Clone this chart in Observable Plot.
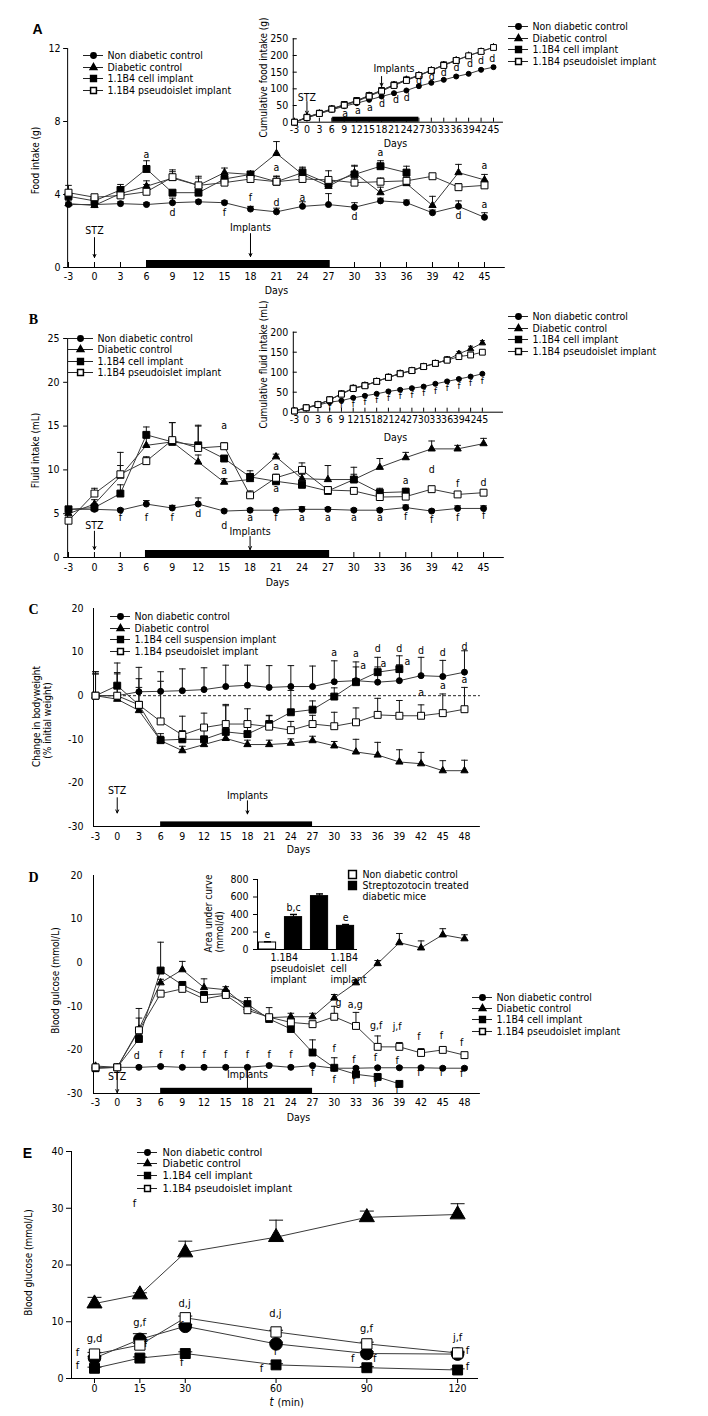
<!DOCTYPE html>
<html><head><meta charset="utf-8">
<script src="https://cdn.jsdelivr.net/npm/d3@7"></script>
<script src="https://cdn.jsdelivr.net/npm/@observablehq/plot@0.6"></script>
<style>
body{margin:0;background:#fff;}
#fig{position:relative;width:708px;height:1416px;overflow:hidden;background:#fff;}
</style></head>
<body><div id="fig"></div>
<script>
// ---------------- DATA ----------------
const legendLabels = ["Non diabetic control","Diabetic control","1.1B4 cell implant","1.1B4 pseudoislet implant"];
const legendLabelsC = ["Non diabetic control","Diabetic control","1.1B4 cell suspension implant","1.1B4 pseudoislet implant"];
const seriesKeys = ["nd","dc","cell","pseudo"];

const daysAB = [-3,0,3,6,9,12,15,18,21,24,27,30,33,36,39,42,45];
const daysCD = [-3,0,3,6,9,12,15,18,21,24,27,30,33,36,39,42,45,48];
const timesE = [0,15,30,60,90,120];

const yTicksA = [0,4,8,12];
const yTicksAInset = [0,50,100,150,200,250];
const yTicksB = [0,5,10,15,20,25];
const yTicksBInset = [0,50,100,150,200];
const yTicksCD = [-30,-20,-10,0,10,20];
const yTicksDInset = [0,200,400,600,800];
const yTicksE = [0,10,20,30,40];

// A: food intake (g)
const foodNonDiab = [3.45,3.45,3.5,3.45,3.55,3.6,3.55,3.2,3.05,3.35,3.45,3.3,3.65,3.55,3.0,3.35,2.75];
const foodNonDiabErr = [0.1,0.1,0.1,0.1,0.25,0.1,0.1,0.15,0.2,0.25,0.6,0.25,0.15,0.15,0.15,0.3,0.25];
const foodDiab = [3.5,3.4,4.05,4.45,4.9,4.5,5.2,5.1,6.25,5.1,4.45,5.2,4.1,4.6,3.4,5.2,4.8];
const foodDiabErr = [0.15,0.1,0.3,0.3,0.35,0.5,0.25,0.1,0.65,0.35,0.3,0.4,0.3,0.3,0.5,0.45,0.3];
const foodCell = [3.9,3.65,4.25,5.4,4.1,4.1,4.85,5.1,4.7,5.2,4.6,5.1,5.55,5.2];
const foodCellErr = [0.2,0.1,0.3,0.45,0.1,0.1,0.2,0.1,0.3,0.3,0.2,0.45,0.3,0.35];
const foodPseudo = [4.1,3.85,3.95,4.15,4.95,4.5,4.65,4.85,4.7,4.85,4.8,4.65,4.7,4.75,5.0,4.4,4.5];
const foodPseudoErr = [0.4,0.1,0.2,0.4,0.4,0.4,0.2,0.1,0.3,0.2,0.5,0.2,0.2,0.2,0.1,0.2,0.2];
// A inset: cumulative food intake (g)
const cumFoodNonDiab = [0,13,25,37,48,57,67,77,87,95,108,118,127,137,145,157,165];
const cumFoodNonDiabErr = [1,2,2,3,3,3,3,4,3,3,4,3,3,4,4,4,4];
const cumFoodDiab = [0,15,27,40,52,64,80,96,112,128,141,156,172,186,200,212,225];
const cumFoodDiabErr = [1,2,2,3,3,4,4,4,4,5,5,5,5,5,5,4,4];
const cumFoodCell = [0,15,27,40,53,65,80,95,112,127,140,155,172,185];
const cumFoodCellErr = [1,2,2,3,3,4,4,4,4,4,5,5,5,5];
const cumFoodPseudo = [0,14,26,39,51,62,78,93,110,125,140,155,170,185,199,212,224];
const cumFoodPseudoErr = [1,2,2,3,3,4,4,4,4,5,5,5,5,5,5,5,5];
// B: fluid intake (mL)
const fluidNonDiab = [5.5,5.5,5.4,6.1,5.65,6.1,5.3,5.4,5.4,5.5,5.5,5.4,5.4,5.7,5.3,5.6,5.6];
const fluidNonDiabErr = [0.3,0.3,0.2,0.4,0.3,0.7,0.2,0.2,0.2,0.3,0.2,0.2,0.2,0.3,0.2,0.3,0.3];
const fluidDiab = [5.0,6.1,9.3,12.8,13.2,10.9,8.6,8.9,11.5,9.0,8.9,8.9,10.3,11.4,12.4,12.4,13.0];
const fluidDiabErr = [0.3,0.5,1.2,1.0,2.2,0.8,0.4,0.6,0.3,0.5,1.6,1.4,1.0,0.6,0.9,0.4,0.6];
const fluidCell = [5.5,5.7,7.3,14.0,13.2,12.8,11.3,9.2,8.7,8.3,7.6,8.9,7.4,7.5];
const fluidCellErr = [0.3,0.4,1.0,0.9,0.3,2.3,0.3,0.7,0.5,0.3,0.5,0.6,0.5,0.4];
const fluidPseudo = [4.2,7.3,9.5,11.0,13.4,12.5,12.7,7.1,9.1,10.0,7.7,7.6,6.9,6.95,7.8,7.2,7.4];
const fluidPseudoErr = [0.3,0.6,2.5,0.5,2.0,2.5,0.4,0.5,0.4,0.8,0.3,0.4,0.3,0.3,0.3,0.3,0.3];
// B inset: cumulative fluid intake (mL)
const cumFluidNonDiab = [3,10,18,25,29,36,41,46,52,56,60,64,71,77,83,89,96];
const cumFluidNonDiabErr = [1,1,2,2,2,2,3,3,3,3,3,3,3,3,3,3,3];
const cumFluidDiab = [3,11,19,31,46,60,67,77,87,97,104,114,122,131,146,158,173];
const cumFluidDiabErr = [1,2,3,4,5,5,6,6,8,6,6,5,5,6,6,7,6];
const cumFluidCell = [3,11,19,31,46,60,67,77,87,97,104,114,122,131];
const cumFluidCellErr = [1,2,3,4,5,4,5,5,5,5,5,5,5,5];
const cumFluidPseudo = [3,11,19,31,45,59,66,77,87,96,104,114,122,130,139,143,150];
const cumFluidPseudoErr = [1,2,3,4,5,4,5,5,5,5,5,5,5,5,5,5,6];
// C: change in bodyweight (% initial weight)
const bwNonDiab = [0,0,0.9,1.0,1.15,1.4,2.1,2.4,1.9,2.1,2.1,3.2,3.45,3.1,3.45,4.6,4.4,5.4];
const bwNonDiabErr = [5.5,7.5,5.6,4.5,5.0,5.0,4.9,4.6,5.0,4.8,4.7,4.8,4.3,5.7,5.7,4.2,3.7,4.9];
const bwDiab = [0,-0.8,-3.4,-10.3,-12.6,-11.2,-9.8,-11.2,-11.2,-10.9,-10.3,-11.5,-12.9,-13.6,-15.2,-15.6,-17.2,-17.2];
const bwDiabErr = [5.0,1.0,1.5,1.0,1.0,1.0,1.0,1.0,1.0,1.0,1.0,1.0,2.9,2.9,2.8,2.6,2.3,2.4];
const bwCell = [0,2.3,-2.1,-10.2,-10.0,-10.0,-8.3,-8.8,-6.5,-3.8,-3.2,-0.2,3.1,5.4,6.1];
const bwCellErr = [5.5,3.0,6.0,1.5,2.0,2.5,6.0,2.0,2.0,5.0,2.0,2.0,3.5,1.2,1.0];
const bwPseudo = [0,0,-2.1,-5.9,-9.0,-7.3,-6.5,-6.5,-7.1,-7.9,-6.5,-7.0,-6.1,-4.4,-4.6,-4.6,-4.0,-3.1];
const bwPseudoErr = [5.0,5.0,4.0,9.2,4.3,3.3,4.5,3.5,2.5,2.0,2.0,3.2,3.3,3.8,3.5,2.5,4.4,5.0];
// D: blood glucose (mmol/L)
const glucNonDiab = [-24.2,-24,-24,-23.8,-24,-24,-24,-24,-23.6,-24,-23.6,-24.2,-24.2,-24.1,-24.1,-24.1,-24.2,-24.2];
const glucNonDiabErr = [0.3,0.3,0.3,0.3,0.3,0.3,0.3,0.3,0.3,0.3,0.3,0.3,0.3,0.3,0.3,0.3,0.3,0.3];
const glucDiab = [-23.7,-24,-15.2,-4.6,-1.6,-5.7,-6.2,-10.3,-12.6,-12.4,-12.4,-8.1,-4.6,-0.2,4.6,3.4,6.4,5.5];
const glucDiabErr = [0.3,0.3,2.5,0.8,1.9,2.0,0.7,2.3,2.3,0.8,0.8,0.8,0.6,0.7,2.1,1.6,1.4,0.9];
const glucCell = [-24.2,-24,-17.5,-1.8,-5.1,-7.4,-7.1,-9.5,-12.9,-15.2,-20.6,-24.1,-25.6,-26.2,-27.8];
const glucCellErr = [0.3,0.3,1.0,6.5,0.6,0.5,0.5,0.5,0.5,0.5,2.9,2.3,0.5,0.5,0.5];
const glucPseudo = [-24,-24,-15.5,-7.1,-6.0,-8.3,-7.4,-10.9,-12.5,-13.7,-14.1,-12.4,-14.5,-19.3,-19.3,-20.7,-20.0,-21.2];
const glucPseudoErr = [0.3,0.3,5.0,0.5,0.5,0.5,0.5,0.5,0.5,0.5,0.5,2.4,3.1,2.5,1.0,1.0,0.6,0.6];
// D inset: area under curve (mmol/d)
const aucGroups = ["Non diabetic control","Streptozotocin treated diabetic mice","Streptozotocin treated diabetic mice","Streptozotocin treated diabetic mice"];
const aucVals = [80,370,610,270];
const aucErr = [8,30,25,15];
const aucLetters = ["e","b,c","","e"];
const aucCatLabels = [{i:2,t:"1.1B4\npseudoislet\nimplant"},{i:4,t:"1.1B4\ncell\nimplant"}];
// E: IPGTT blood glucose (mmol/L)
const ipgttNonDiab = [3.6,6.9,9.2,6.1,4.4,4.3];
const ipgttNonDiabErr = [0.3,1.0,0.3,0.3,0.3,0.3];
const ipgttDiab = [13.2,14.8,22.2,24.9,28.4,28.9];
const ipgttDiabErr = [1.1,0.3,2.0,3.0,1.1,1.9];
const ipgttCell = [1.8,3.6,4.4,2.4,1.9,1.5];
const ipgttCellErr = [0.2,0.2,0.3,0.2,0.2,0.2];
const ipgttPseudo = [4.3,5.9,10.7,8.2,6.1,4.5];
const ipgttPseudoErr = [0.3,0.3,0.3,0.3,0.3,0.3];

// significance letters [x, y, label]
const annFood = [[6,6.2,"a"],[9,3.03,"d"],[15,3.03,"f"],[18,3.85,"f"],[21,5.5,"a"],[21,3.58,"d"],[24,3.85,"a"],[30,2.8,"d"],[33,6.3,"a"],[42,2.85,"d"],[45,5.6,"a"],[45,3.45,"a"]];
const annCumFood = [[9.2,27,"a"],[12.3,35,"a"],[15.2,45,"a"],[18.1,57,"d"],[21.5,67,"d"],[24.1,73,"d"],[27,124,"d"],[30.1,137,"d"],[33,150,"d"],[36.1,165,"d"],[39.3,175,"d"],[42,185,"d"],[44.7,192,"d"]];
const annFluid = [[3,4.5,"f"],[6,4.5,"f"],[9,4.5,"f"],[12,5.0,"d"],[15,3.6,"d"],[18,4.6,"a"],[21,4.5,"f"],[24,4.6,"a"],[27,4.6,"a"],[30,4.6,"a"],[33,4.5,"a"],[36,4.7,"f"],[39,4.3,"f"],[42,4.6,"f"],[45,4.8,"f"],[15,15.1,"a"],[15,9.9,"a"],[21,10.4,"a"],[21,7.9,"a"],[36,8.8,"a"],[39,10.0,"d"],[42,8.4,"f"],[45,8.6,"d"]];
const annCumFluid = [[6,12,"f"],[9,17,"f"],[12,21,"f"],[15,26,"f"],[18,31,"f"],[21,36,"f"],[24,40,"f"],[27,44,"f"],[30,48,"f"],[33,54,"f"],[36,60,"f"],[39,66,"f"],[42,72,"f"],[45,79,"f"]];
const annBW = [[30,9.9,"a"],[33,9.7,"a"],[34,6.9,"a"],[36,10.8,"d"],[36.8,7.4,"a"],[39,10.8,"d"],[40.1,7.8,"a"],[42,10.3,"d"],[45,9.9,"d"],[48,11.3,"d"],[42,0.7,"a"],[45,2.3,"a"],[48,3.7,"a"]];
const annGluc = [[2.7,-21.3,"d"],[6,-21.0,"f"],[9,-21.0,"f"],[12,-21.0,"f"],[15,-21.0,"f"],[18,-21.0,"f"],[21,-21.0,"f"],[24,-21.0,"f"],[27,-25.2,"f"],[30,-19.8,"f"],[30,-26.8,"f"],[32.7,-22.3,"f"],[32.7,-27.1,"f"],[35.7,-21.8,"f"],[35.7,-27.8,"f"],[38.7,-22.5,"f"],[38.7,-29.2,"f"],[41.7,-17.0,"f"],[41.7,-25.3,"f"],[44.8,-16.8,"f"],[44.8,-25.3,"f"],[47.6,-18.4,"f"],[47.6,-25.5,"f"],[30.6,-9.2,"g"],[32.9,-9.7,"a,g"],[35.8,-14.5,"g,f"],[38.7,-14.7,"j,f"]];
const annIPGTT = [[13.2,30.8,"f"],[0,7.0,"g,d"],[-5.6,4.6,"f"],[-5.6,2.3,"f"],[14.9,9.9,"g,f"],[16.9,6.2,"f"],[29.8,13.2,"d,j"],[28.8,9.3,"f"],[28.8,2.8,"f"],[59.8,11.5,"d,j"],[59.8,4.8,"f"],[55.2,1.8,"f"],[89.9,8.8,"g,f"],[85.3,3.5,"f"],[92.6,3.5,"f"],[120,7.2,"j,f"],[123.3,4.9,"f"],[123.3,2.1,"f"]];

// ---------------- RENDER ----------------
const FONT = "'DejaVu Sans Condensed','Liberation Sans',Arial,sans-serif";
const fig = document.getElementById("fig");
const STYLE = {background:"transparent", overflow:"visible", fontFamily:FONT, color:"black"};
function place(svg, top){ svg.style.position="absolute"; svg.style.left="0px"; svg.style.top=top+"px"; fig.appendChild(svg); }
const capSym = {draw(ctx, size){ const w = Math.sqrt(size/Math.PI); ctx.moveTo(-w,0); ctx.lineTo(w,0); }};

const SYM = {nd:{symbol:"circle",fill:"black",r:3}, dc:{symbol:"triangle",fill:"black",r:2.7}, cell:{symbol:"square",fill:"black",r:3.9}, pseudo:{symbol:"square",fill:"white",r:3.9}};
const SYM_S = {nd:{symbol:"circle",fill:"black",r:2.5}, dc:{symbol:"triangle",fill:"black",r:2.4}, cell:{symbol:"square",fill:"black",r:3.3}, pseudo:{symbol:"square",fill:"white",r:3.3}};
const SYM_E = {nd:{symbol:"circle",fill:"black",r:6.3}, dc:{symbol:"triangle",fill:"black",r:5.6}, cell:{symbol:"square",fill:"black",r:5.6}, pseudo:{symbol:"square",fill:"white",r:5.8}};
const SYM_L = {nd:{symbol:"circle",fill:"black",r:2.7}, dc:{symbol:"triangle",fill:"black",r:2.5}, cell:{symbol:"square",fill:"black",r:3.3}, pseudo:{symbol:"square",fill:"white",r:3.3}};

function panel(P){
  const {top,height,fl,fr,ft,fb,xd,yd} = P;
  const ypp = (yd[1]-yd[0])/(fb-ft), xpp = (xd[1]-xd[0])/(fr-fl);
  const L=[],E=[],D=[];
  P.series.forEach((s,k)=>{
    const pts = s.v.map((v,i)=>({x:P.xs[i], y:v, yt:v+s.e[i]}));
    const st = P.sym[seriesKeys[k]];
    L.push(Plot.line(pts,{x:"x",y:"y",stroke:"#3a3a3a",strokeWidth:1}));
    E.push(Plot.ruleX(pts,{x:"x",y1:"y",y2:"yt",stroke:"#111",strokeWidth:1}));
    E.push(Plot.dot(pts,{x:"x",y:"yt",symbol:capSym,r:P.capR,stroke:"#111",fill:"none",strokeWidth:1}));
    D.push(Plot.dot(pts,{x:"x",y:"y",symbol:st.symbol,r:st.r,fill:st.fill,stroke:"black",strokeWidth:1}));
  });
  const m = [];
  if (P.zeroDash) m.push(Plot.ruleY([0],{stroke:"#222",strokeDasharray:"3,2"}));
  m.push(Plot.ruleX([xd[0]],{stroke:"black"}), Plot.ruleY([yd[0]],{stroke:"black"}));
  m.push(Plot.axisY({ticks:P.yticks,tickSize:P.yTickOut||0,tickPadding:P.yPad,fontSize:P.fs,tickFormat:d=>String(d),label:null}));
  m.push(Plot.axisX({ticks:P.xticks,tickSize:P.xTickOut||0,tickPadding:P.xPad,fontSize:P.fs,tickFormat:d=>String(d),label:null}));
  if (P.xTickIn) m.push(Plot.ruleX(P.xticks,{x:d=>d,y1:()=>yd[0],y2:()=>yd[0]+P.xTickIn*ypp,stroke:"black"}));
  if (P.yTickIn) m.push(Plot.ruleY(P.yticks,{y:d=>d,x1:()=>xd[0],x2:()=>xd[0]+P.yTickIn*xpp,stroke:"black"}));
  if (P.bar) m.push(Plot.rect([P.bar],{x1:d=>d[0],x2:d=>d[1],y1:()=>yd[0],y2:()=>yd[0]+P.barH*ypp,fill:"black"}));
  (P.arrows||[]).forEach(a=>{
    m.push(Plot.arrow([a],{x1:"x",x2:"x",y1:"y1",y2:"y2",stroke:"black",strokeWidth:1,headLength:5,headAngle:50}));
    m.push(Plot.text([a],{x:d=>d.tx??d.x,y:"ty",text:"label",fontSize:P.fs}));
  });
  m.push(...L,...E,...D);
  if (P.ann) m.push(Plot.text(P.ann,{x:d=>d[0],y:d=>d[1],text:d=>d[2],fontSize:P.annFs||P.fs}));
  place(Plot.plot({width:708,height,marginLeft:fl,marginRight:708-fr,marginTop:ft-top,marginBottom:top+height-fb,
    x:{domain:xd,label:null},y:{domain:yd,label:null},style:STYLE,marks:m}), top);
}

// Panel A
panel({top:0,height:300,fl:67.13,fr:504.8,ft:48,fb:267,xd:[-3.1,47.4],yd:[0,12],xs:daysAB,
  xticks:daysAB,yticks:yTicksA,yTickOut:4,yPad:3,xPad:5,xTickIn:5,fs:10.5,capR:3.3,sym:SYM,
  bar:[6,27.2],barH:7,
  arrows:[{x:0,y1:1.64,y2:0.55,ty:2.03,label:"STZ"},{x:18,y1:1.86,y2:0.6,ty:2.19,label:"Implants"}],
  series:[{v:foodNonDiab,e:foodNonDiabErr},{v:foodDiab,e:foodDiabErr},{v:foodCell,e:foodCellErr},{v:foodPseudo,e:foodPseudoErr}],
  ann:annFood});
// Panel A inset
panel({top:0,height:160,fl:292.76,fr:502.96,ft:38.3,fb:121.7,xd:[-3.3,47.4],yd:[0,250],xs:daysAB,
  xticks:daysAB,yticks:yTicksAInset,yPad:5,xPad:3,xTickIn:4,yTickIn:4,fs:10.5,capR:2.5,sym:SYM_S,
  bar:[6.2,27],barH:5,
  arrows:[{x:0,y1:62,y2:24,ty:73,label:"STZ"},{x:18,tx:21,y1:137,y2:108,ty:160,label:"Implants"}],
  series:[{v:cumFoodNonDiab,e:cumFoodNonDiabErr},{v:cumFoodDiab,e:cumFoodDiabErr},{v:cumFoodCell,e:cumFoodCellErr},{v:cumFoodPseudo,e:cumFoodPseudoErr}],
  ann:annCumFood});
// Panel B
panel({top:300,height:295,fl:67.14,fr:503.8,ft:338,fb:557,xd:[-3.1,47.4],yd:[0,25],xs:daysAB,
  xticks:daysAB,yticks:yTicksB,yTickOut:4,yPad:4,xPad:6,xTickIn:5,fs:10.5,capR:3.3,sym:SYM,
  bar:[5.9,27.2],barH:7,
  arrows:[{x:0,y1:3.0,y2:0.9,ty:3.6,label:"STZ"},{x:18,y1:2.4,y2:0.9,ty:3.0,label:"Implants"}],
  series:[{v:fluidNonDiab,e:fluidNonDiabErr},{v:fluidDiab,e:fluidDiabErr},{v:fluidCell,e:fluidCellErr},{v:fluidPseudo,e:fluidPseudoErr}],
  ann:annFluid});
// Panel B inset
panel({top:300,height:150,fl:292.8,fr:503,xd:[-3.3,50.4],ft:331.7,fb:411.7,yd:[0,200],xs:daysAB,
  xticks:daysAB,yticks:yTicksBInset,yPad:5,xPad:3,xTickIn:4,yTickIn:4,fs:10.5,capR:2.5,sym:SYM_S,
  series:[{v:cumFluidNonDiab,e:cumFluidNonDiabErr},{v:cumFluidDiab,e:cumFluidDiabErr},{v:cumFluidCell,e:cumFluidCellErr},{v:cumFluidPseudo,e:cumFluidPseudoErr}],
  ann:annCumFluid, annFs:9.5});
// Panel C
panel({top:595,height:270,fl:93,fr:479.9,ft:608,fb:826,xd:[-3.28,50.2],yd:[-30,20],xs:daysCD,
  xticks:daysCD,yticks:yTicksCD,yPad:10,xPad:6,fs:10.5,capR:3.3,sym:SYM,zeroDash:true,
  bar:[6,27],barH:4.6,
  arrows:[{x:0,y1:-23.4,y2:-26.9,ty:-21.8,label:"STZ"},{x:18,y1:-24.1,y2:-27.1,ty:-23,label:"Implants"}],
  series:[{v:bwNonDiab,e:bwNonDiabErr},{v:bwDiab,e:bwDiabErr},{v:bwCell,e:bwCellErr},{v:bwPseudo,e:bwPseudoErr}],
  ann:annBW});
// Panel D
panel({top:865,height:285,fl:93,fr:479.9,ft:875,fb:1093,xd:[-3.28,50.2],yd:[-30,20],xs:daysCD,
  xticks:daysCD,yticks:yTicksCD,yPad:11,xPad:5,fs:10.5,capR:3.3,sym:SYM,
  bar:[6,27],barH:5.2,
  arrows:[{x:0,y1:-24.3,y2:-29.8,ty:-26.2,label:"STZ"},{x:18,y1:-23.7,y2:-29.6,ty:-25.7,label:"Implants"}],
  series:[{v:glucNonDiab,e:glucNonDiabErr},{v:glucDiab,e:glucDiabErr},{v:glucCell,e:glucCellErr},{v:glucPseudo,e:glucPseudoErr}],
  ann:annGluc});
// Panel D inset (bar chart)
(function(){
  const pts = aucVals.map((v,i)=>({i:i+1,v,top:v+aucErr[i],g:aucGroups[i],lab:aucLetters[i]}));
  const xd=[0.615,4.46];
  const catOpts = {x:"i",y:()=>0,text:"t",textAnchor:"start",lineAnchor:"top",fontSize:10.5,lineHeight:1.05,dy:4};
  place(Plot.plot({width:708,height:130,marginLeft:257,marginRight:708-357,marginTop:879-865,marginBottom:865+130-949,
    x:{domain:xd,axis:null,label:null},y:{domain:[0,800],label:null},style:STYLE,marks:[
      Plot.ruleX([xd[0]],{stroke:"black"}), Plot.ruleY([0],{stroke:"black"}),
      Plot.axisY({ticks:yTicksDInset,tickSize:4,tickPadding:5,fontSize:10.5,tickFormat:d=>String(d),label:null}),
      Plot.rect(pts,{x1:d=>d.i-0.33,x2:d=>d.i+0.33,y1:()=>0,y2:"v",fill:d=>d.g===aucGroups[0]?"white":"black",stroke:"black"}),
      Plot.ruleX(pts,{x:"i",y1:"v",y2:"top",stroke:"black"}),
      Plot.dot(pts,{x:"i",y:"top",symbol:capSym,r:3.5,stroke:"black",fill:"none"}),
      Plot.text(pts,{x:"i",y:"top",text:"lab",dy:-7,fontSize:10.5}),
      Plot.text([aucCatLabels[0]],{...catOpts,dx:-23}),
      Plot.text([aucCatLabels[1]],{...catOpts,dx:-15})
    ]}), 865);
})();
// Panel E
panel({top:1140,height:276,fl:71,fr:478,ft:1151,fb:1378,xd:[-7.6,126.9],yd:[0,40],xs:timesE,
  xticks:timesE,yticks:yTicksE,yTickOut:5,yPad:3,xTickOut:5,xPad:1,fs:10.5,capR:7,sym:SYM_E,
  series:[{v:ipgttNonDiab,e:ipgttNonDiabErr},{v:ipgttDiab,e:ipgttDiabErr},{v:ipgttCell,e:ipgttCellErr},{v:ipgttPseudo,e:ipgttPseudoErr}],
  ann:annIPGTT, annFs:11});

// ---------------- OVERLAY (legends, titles, panel letters) ----------------
const ov = [];
function legend(x0,x1,tx,ys,labels,fs){
  const items = labels.map((l,i)=>({l,y:ys[i],k:seriesKeys[i]}));
  ov.push(Plot.ruleY(items,{y:"y",x1:()=>x0,x2:()=>x1,stroke:"#222"}));
  items.forEach(it=>{ const st=SYM_L[it.k]; ov.push(Plot.dot([it],{x:()=>(x0+x1)/2,y:"y",symbol:st.symbol,r:st.r,fill:st.fill,stroke:"black"})); });
  ov.push(Plot.text(items,{x:()=>tx,y:"y",text:"l",textAnchor:"start",fontSize:fs}));
}
legend(83,103,107,[55,67,78,90],legendLabels,10.5);
legend(508,528,532,[26,38,49,61],legendLabels,10.5);
legend(67,93,97,[338,349,361,372],legendLabels,10.5);
legend(508,528,532,[316,328,339,351],legendLabels,10.5);
legend(110,130,134,[616,628,639,651],legendLabelsC,10.5);
legend(472,492,496,[997,1008,1019,1031],legendLabels,10.5);
legend(137,157,162,[1152,1163,1175,1188],legendLabels,11);

const panelLetters = [{t:"A",x:37,y:29,f:"'Liberation Sans',Arial,sans-serif"},{t:"B",x:33,y:319,f:"'Liberation Serif',serif"},{t:"C",x:33,y:609,f:"'Liberation Serif',serif"},{t:"D",x:33,y:877,f:"'Liberation Serif',serif"},{t:"E",x:27,y:1153,f:"'Liberation Sans',Arial,sans-serif"}];
panelLetters.forEach(p=>ov.push(Plot.text([p],{x:"x",y:"y",text:"t",fontWeight:"bold",fontSize:14,fontFamily:p.f})));

const rotTitles = [
  {x:35,y:160,t:"Food intake (g)"},{x:263,y:77,t:"Cumulative food intake (g)"},
  {x:35,y:450,t:"Fluid intake (mL)"},{x:263,y:364,t:"Cumulative fluid intake (mL)"},
  {x:36,y:716,t:"Change in bodyweight"},{x:47,y:720,t:"(% initial weight)"},
  {x:55,y:980,t:"Blood gulcose (mmol/L)"},{x:28,y:1262,t:"Blood glucose (mmol/L)"}];
ov.push(Plot.text(rotTitles,{x:"x",y:"y",text:"t",rotate:-90,fontSize:10}));
ov.push(Plot.text([{x:208,y:952,t:"Area under curve"},{x:219,y:952,t:"(mmol/d)"}],{x:"x",y:"y",text:"t",rotate:-90,textAnchor:"start",fontSize:10}));
const xTitles = [{x:276,y:290,t:"Days"},{x:395,y:143,t:"Days"},{x:277,y:582,t:"Days"},{x:395,y:437,t:"Days"},{x:298,y:849,t:"Days"},{x:298,y:1117,t:"Days"}];
ov.push(Plot.text(xTitles,{x:"x",y:"y",text:"t",fontSize:10.5}));
ov.push(Plot.text([{x:271,y:1402,t:"t"}],{x:"x",y:"y",text:"t",fontStyle:"italic",fontSize:11.5}));
ov.push(Plot.text([{x:277,y:1402,t:"(min)"}],{x:"x",y:"y",text:"t",textAnchor:"start",fontSize:11}));
// D inset legend
ov.push(Plot.dot([{x:352,y:874}],{x:"x",y:"y",symbol:"square",r:4.4,fill:"white",stroke:"black"}));
ov.push(Plot.dot([{x:352,y:885}],{x:"x",y:"y",symbol:"square",r:4.4,fill:"black",stroke:"black"}));
ov.push(Plot.text([{x:362,y:874,t:"Non diabetic control"},{x:362,y:885,t:"Streptozotocin treated"},{x:362,y:896,t:"diabetic mice"}],{x:"x",y:"y",text:"t",textAnchor:"start",fontSize:10.5}));

place(Plot.plot({width:708,height:1416,margin:0,x:{type:"identity",axis:null},y:{type:"identity",axis:null},style:STYLE,marks:ov}),0);
</script>
</body></html>
